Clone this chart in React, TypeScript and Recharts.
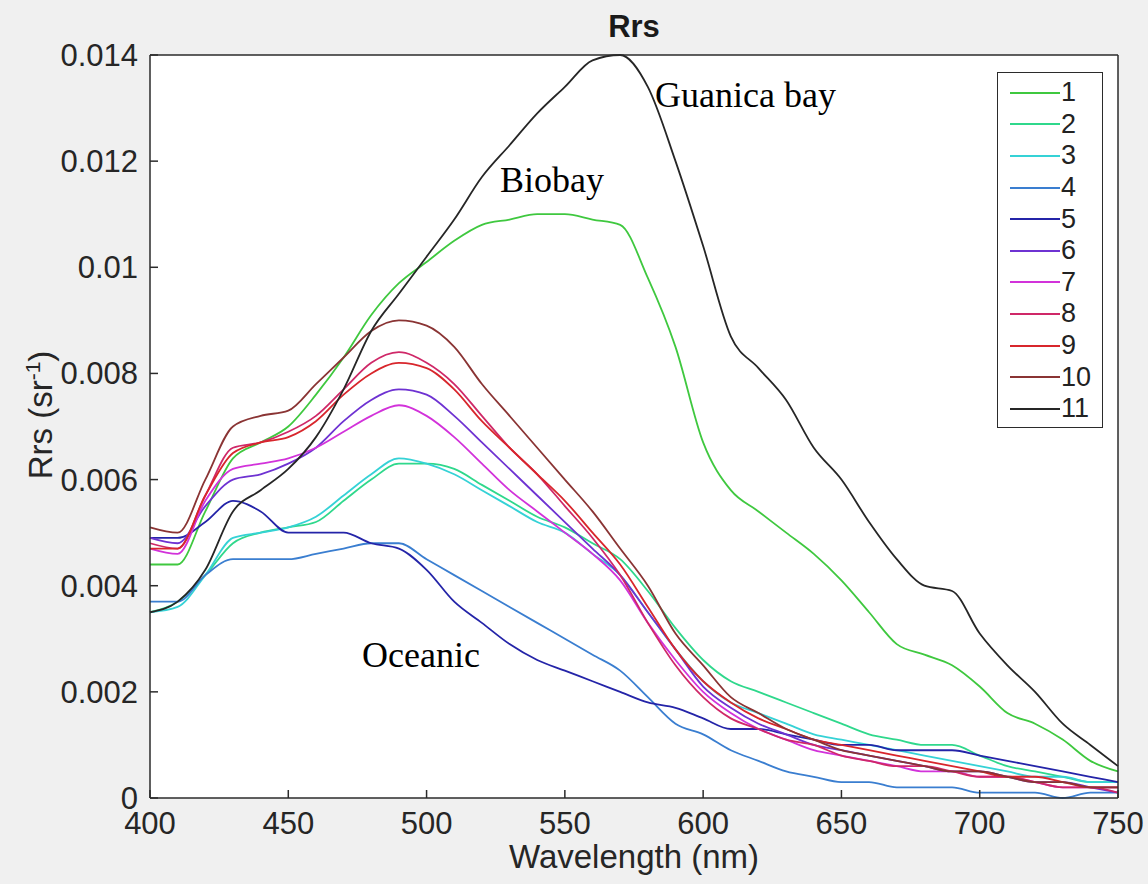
import { LineChart, Line, XAxis, YAxis, CartesianGrid, Legend } from 'recharts';

// wavelength grid (nm)
const wavelengths = [
  400, 410, 420, 430, 440, 450, 460, 470, 480, 490,
  500, 510, 520, 530, 540, 550, 560, 570, 580, 590,
  600, 610, 620, 630, 640, 650, 660, 670, 680, 690,
  700, 710, 720, 730, 740, 750,
];

// Rrs spectra, one per station (sr^-1)
const rrs1 = [
  0.0044, 0.0044, 0.0054, 0.0064, 0.0067, 0.0070, 0.0076, 0.0083, 0.0091, 0.0097,
  0.0101, 0.0105, 0.0108, 0.0109, 0.0110, 0.0110, 0.0109, 0.0108, 0.0098, 0.0085,
  0.0067, 0.0058, 0.0054, 0.0050, 0.0046, 0.0041, 0.0035, 0.0029, 0.0027, 0.0025,
  0.0021, 0.0016, 0.0014, 0.0011, 0.0007, 0.0005,
];
const rrs2 = [
  0.0035, 0.0037, 0.0042, 0.0048, 0.0050, 0.0051, 0.0052, 0.0056, 0.0060, 0.0063,
  0.0063, 0.0062, 0.0059, 0.0056, 0.0053, 0.0051, 0.0048, 0.0045, 0.0039, 0.0032,
  0.0026, 0.0022, 0.0020, 0.0018, 0.0016, 0.0014, 0.0012, 0.0011, 0.0010, 0.0010,
  0.0008, 0.0006, 0.0005, 0.0004, 0.0003, 0.0003,
];
const rrs3 = [
  0.0035, 0.0036, 0.0042, 0.0049, 0.0050, 0.0051, 0.0053, 0.0057, 0.0061, 0.0064,
  0.0063, 0.0061, 0.0058, 0.0055, 0.0052, 0.0050, 0.0046, 0.0042, 0.0035, 0.0028,
  0.0022, 0.0018, 0.0016, 0.0014, 0.0012, 0.0011, 0.0010, 0.0009, 0.0008, 0.0007,
  0.0006, 0.0005, 0.0004, 0.0004, 0.0003, 0.0003,
];
const rrs4 = [
  0.0037, 0.0037, 0.0042, 0.0045, 0.0045, 0.0045, 0.0046, 0.0047, 0.0048, 0.0048,
  0.0045, 0.0042, 0.0039, 0.0036, 0.0033, 0.0030, 0.0027, 0.0024, 0.0019, 0.0014,
  0.0012, 0.0009, 0.0007, 0.0005, 0.0004, 0.0003, 0.0003, 0.0002, 0.0002, 0.0002,
  0.0001, 0.0001, 0.0001, 0.0000, 0.0001, 0.0001,
];
const rrs5 = [
  0.0049, 0.0049, 0.0052, 0.0056, 0.0054, 0.0050, 0.0050, 0.0050, 0.0048, 0.0047,
  0.0043, 0.0037, 0.0033, 0.0029, 0.0026, 0.0024, 0.0022, 0.0020, 0.0018, 0.0017,
  0.0015, 0.0013, 0.0013, 0.0012, 0.0011, 0.0010, 0.0010, 0.0009, 0.0009, 0.0009,
  0.0008, 0.0007, 0.0006, 0.0005, 0.0004, 0.0003,
];
const rrs6 = [
  0.0049, 0.0048, 0.0055, 0.0060, 0.0061, 0.0063, 0.0066, 0.0071, 0.0075, 0.0077,
  0.0076, 0.0072, 0.0067, 0.0062, 0.0057, 0.0052, 0.0047, 0.0042, 0.0035, 0.0028,
  0.0021, 0.0017, 0.0014, 0.0012, 0.0010, 0.0009, 0.0008, 0.0007, 0.0006, 0.0005,
  0.0005, 0.0004, 0.0003, 0.0003, 0.0002, 0.0001,
];
const rrs7 = [
  0.0047, 0.0046, 0.0056, 0.0062, 0.0063, 0.0064, 0.0066, 0.0069, 0.0072, 0.0074,
  0.0072, 0.0068, 0.0063, 0.0058, 0.0054, 0.0050, 0.0046, 0.0041, 0.0033, 0.0026,
  0.0020, 0.0016, 0.0013, 0.0011, 0.0009, 0.0008, 0.0007, 0.0006, 0.0005, 0.0005,
  0.0004, 0.0004, 0.0003, 0.0002, 0.0002, 0.0002,
];
const rrs8 = [
  0.0048, 0.0047, 0.0057, 0.0066, 0.0067, 0.0069, 0.0072, 0.0077, 0.0082, 0.0084,
  0.0082, 0.0078, 0.0072, 0.0066, 0.0061, 0.0055, 0.0049, 0.0042, 0.0033, 0.0025,
  0.0019, 0.0015, 0.0013, 0.0011, 0.0010, 0.0008, 0.0007, 0.0006, 0.0006, 0.0005,
  0.0004, 0.0004, 0.0003, 0.0002, 0.0002, 0.0001,
];
const rrs9 = [
  0.0047, 0.0047, 0.0057, 0.0065, 0.0067, 0.0068, 0.0071, 0.0076, 0.0080, 0.0082,
  0.0081, 0.0077, 0.0071, 0.0066, 0.0061, 0.0056, 0.0050, 0.0044, 0.0036, 0.0028,
  0.0022, 0.0018, 0.0015, 0.0013, 0.0011, 0.0010, 0.0009, 0.0008, 0.0007, 0.0006,
  0.0005, 0.0004, 0.0004, 0.0003, 0.0002, 0.0002,
];
const rrs10 = [
  0.0051, 0.0050, 0.0060, 0.0070, 0.0072, 0.0073, 0.0078, 0.0083, 0.0088, 0.0090,
  0.0089, 0.0085, 0.0078, 0.0072, 0.0066, 0.0060, 0.0054, 0.0047, 0.0040, 0.0031,
  0.0025, 0.0019, 0.0016, 0.0013, 0.0011, 0.0009, 0.0008, 0.0007, 0.0006, 0.0005,
  0.0005, 0.0004, 0.0003, 0.0003, 0.0002, 0.0002,
];
const rrs11 = [
  0.0035, 0.0037, 0.0043, 0.0054, 0.0058, 0.0062, 0.0068, 0.0077, 0.0088, 0.0095,
  0.0102, 0.0109, 0.0117, 0.0123, 0.0129, 0.0134, 0.0139, 0.0140, 0.0134, 0.0120,
  0.0104, 0.0087, 0.0081, 0.0075, 0.0066, 0.0060, 0.0052, 0.0045, 0.0040, 0.0039,
  0.0031, 0.0025, 0.0020, 0.0014, 0.0010, 0.0006,
];

const seriesNames = ['1', '2', '3', '4', '5', '6', '7', '8', '9', '10', '11'];
const seriesColors = [
  '#3fc83f', '#2fd88c', '#35d2d6', '#3a7ed0', '#2424a8', '#6e32d2',
  '#d232da', '#cf2868', '#d8262c', '#8a3434', '#262626',
];
const allSeries = [rrs1, rrs2, rrs3, rrs4, rrs5, rrs6, rrs7, rrs8, rrs9, rrs10, rrs11];

const xTicks = [400, 450, 500, 550, 600, 650, 700, 750];
const yTicks = [0, 0.002, 0.004, 0.006, 0.008, 0.01, 0.012, 0.014];

const chartData = wavelengths.map((wl, i) => {
  const row: Record<string, number> = { wl };
  allSeries.forEach((s, k) => {
    row[seriesNames[k]] = s[i];
  });
  return row;
});

const sans = '"Liberation Sans", Arial, Helvetica, sans-serif';
const serif = '"Liberation Serif", "Times New Roman", serif';
const axisColor = '#2b2b2b';
const tickStyle = { fill: '#262626', fontSize: 31, fontFamily: sans };

function LegendBox({ payload }: any) {
  const items = [...(payload || [])].sort(
    (a: any, b: any) => seriesNames.indexOf(a.value) - seriesNames.indexOf(b.value)
  );
  return (
    <div
      style={{
        width: 106,
        height: 356,
        boxSizing: 'border-box',
        border: `1.5px solid ${axisColor}`,
        background: '#fff',
        paddingTop: 4,
        fontFamily: sans,
      }}
    >
      {items.map((entry: any) => (
        <div key={entry.value} style={{ display: 'flex', alignItems: 'center', height: 31.6 }}>
          <span style={{ display: 'inline-block', marginLeft: 12, width: 50, height: 2, background: entry.color }} />
          <span style={{ fontSize: 27, lineHeight: 1, color: '#222', marginLeft: 1 }}>{entry.value}</span>
        </div>
      ))}
    </div>
  );
}

export default function App() {
  return (
    <div style={{ position: 'relative', width: 1148, height: 884, background: '#f0f0f0', overflow: 'hidden' }}>
      <style>{'body { margin: 0; }'}</style>

      <LineChart
        width={1148}
        height={884}
        data={chartData}
        margin={{ top: 54, right: 29, bottom: 46, left: 70 }}
        style={{ fontFamily: sans }}
      >
        <CartesianGrid horizontal={false} vertical={false} fill="#ffffff" />
        <XAxis
          dataKey="wl"
          type="number"
          domain={[400, 750]}
          ticks={xTicks}
          height={40}
          tick={tickStyle}
          tickSize={-8}
          tickMargin={22}
          axisLine={{ stroke: axisColor, strokeWidth: 1.5 }}
          tickLine={{ stroke: axisColor, strokeWidth: 1.5 }}
        />
        <XAxis
          xAxisId="top"
          orientation="top"
          type="number"
          domain={[400, 750]}
          ticks={xTicks}
          height={1}
          tickFormatter={() => ''}
          tickSize={-8}
          axisLine={{ stroke: axisColor, strokeWidth: 1.5 }}
          tickLine={{ stroke: axisColor, strokeWidth: 1.5 }}
        />
        <YAxis
          type="number"
          domain={[0, 0.014]}
          ticks={yTicks}
          width={80}
          tick={tickStyle}
          tickSize={-8}
          tickMargin={20}
          axisLine={{ stroke: axisColor, strokeWidth: 1.5 }}
          tickLine={{ stroke: axisColor, strokeWidth: 1.5 }}
        />
        <YAxis
          yAxisId="right"
          orientation="right"
          type="number"
          domain={[0, 0.014]}
          ticks={yTicks}
          width={1}
          tickFormatter={() => ''}
          tickSize={-8}
          axisLine={{ stroke: axisColor, strokeWidth: 1.5 }}
          tickLine={{ stroke: axisColor, strokeWidth: 1.5 }}
        />
        <Legend
          layout="vertical"
          align="center"
          verticalAlign="middle"
          content={<LegendBox />}
          wrapperStyle={{ top: 72, left: 997, width: 106 }}
        />
        {seriesNames.map((name, k) => (
          <Line
            key={name}
            type="monotone"
            dataKey={name}
            name={name}
            stroke={seriesColors[k]}
            strokeWidth={1.8}
            dot={false}
            activeDot={false}
            isAnimationActive={false}
          />
        ))}
      </LineChart>

      {/* title and axis labels */}
      <div
        style={{
          position: 'absolute', left: 0, width: 1268, top: 9, textAlign: 'center',
          fontFamily: sans, fontWeight: 'bold', fontSize: 31, color: '#1a1a1a',
        }}
      >
        Rrs
      </div>
      <div
        style={{
          position: 'absolute', left: 0, width: 1268, top: 838, textAlign: 'center',
          fontFamily: sans, fontSize: 33, color: '#262626',
        }}
      >
        Wavelength (nm)
      </div>
      <div
        style={{
          position: 'absolute', left: 40, top: 415, transform: 'translate(-50%, -50%) rotate(-90deg)',
          whiteSpace: 'nowrap', fontFamily: sans, fontSize: 33, color: '#262626',
        }}
      >
        Rrs (sr<sup style={{ fontSize: 21 }}>-1</sup>)
      </div>

      {/* site annotations */}
      <div style={{ position: 'absolute', left: 655, top: 74, fontFamily: serif, fontSize: 36, color: '#000' }}>
        Guanica bay
      </div>
      <div style={{ position: 'absolute', left: 500, top: 159, fontFamily: serif, fontSize: 36, color: '#000' }}>
        Biobay
      </div>
      <div style={{ position: 'absolute', left: 362, top: 634, fontFamily: serif, fontSize: 36, color: '#000' }}>
        Oceanic
      </div>
    </div>
  );
}
